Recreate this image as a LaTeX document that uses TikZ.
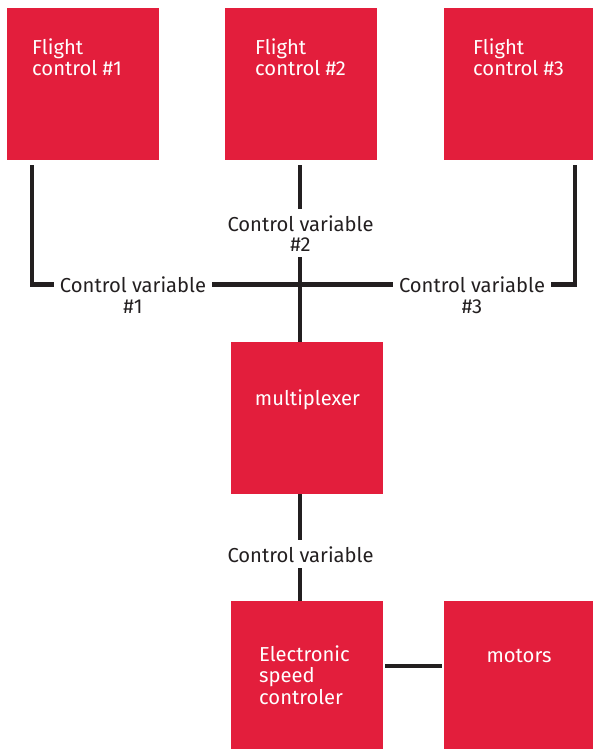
\documentclass[tikz,border=0pt]{standalone}
\usepackage{fontspec}
\setmainfont{Fira Sans}
\usetikzlibrary{calc}
\definecolor{boxred}{RGB}{227,30,60}
\definecolor{ink}{RGB}{35,31,32}
\begin{document}
\begin{tikzpicture}[x=1pt,y=-1pt,
  box/.style={fill=boxred, draw=none, minimum width=152pt, minimum height=152pt,
              inner sep=0pt, anchor=north west},
  boxtext/.style={text=white, font=\fontsize{20.2}{21.5}\selectfont, align=left, inner sep=0pt},
  lbl/.style={text=ink, font=\fontsize{20.2}{21.5}\selectfont, inner xsep=6pt, inner ysep=6pt},
  wire/.style={draw=ink, line width=4.8pt}]
\useasboundingbox (0,0) rectangle (593,749);

% blocks
\node[box] (fc1) at (7,8) {};
\node[box] (fc2) at (225,8) {};
\node[box] (fc3) at (444,8) {};
\node[box] (mux) at (231,342) {};
\node[box] (esc) at (231,601) {};
\node[box] (mot) at (444,601) {};

% block captions (base anchor sits on the last line)
\node[boxtext, anchor=base west] (fc1t) at (32,76) {Flight\\control \#1};
\node[boxtext, anchor=base west] (fc2t) at (255,76) {Flight\\control \#2};
\node[boxtext, anchor=base west] (fc3t) at (473,76) {Flight\\control \#3};
\node[boxtext, anchor=base] (muxt) at (307.5,405.7) {multiplexer};
\node[boxtext, anchor=base west] (esct) at (259,704) {Electronic\\speed\\controler};
\node[boxtext, anchor=base] (mott) at (519,662) {motors};

% signal labels
\node[lbl, anchor=base] (cv1) at (133,292) {Control variable};
\node[lbl, anchor=base] (cv1n) at (133,313) {\#1};
\node[lbl, anchor=base] (cv2) at (300.5,231) {Control variable};
\node[lbl, anchor=base] (cv2n) at (300.5,251) {\#2};
\node[lbl, anchor=base] (cv3) at (472,292) {Control variable};
\node[lbl, anchor=base] (cv3n) at (472,313) {\#3};
\node[lbl, anchor=base] (cv) at (300.5,562) {Control variable};

% wire start points below the flight controllers
\coordinate (c1) at (32,165);
\coordinate (c2) at (300,165);
\coordinate (c3) at (575,165);
\coordinate (m1) at (0,666);

% wiring
\draw[wire] (c1) |- (cv1.west);
\draw[wire] (cv1.east) -- (cv3.west);
\draw[wire] (cv3.east) -| (c3);
\draw[wire] (c2) -- (cv2.north -| c2);
\draw[wire] (cv2n.south -| c2) -- (mux.north -| c2);
\draw[wire] (mux.south -| c2) -- (cv.north -| c2);
\draw[wire] (cv.south -| c2) -- (esc.north -| c2);
\draw[wire] ($(esc.east |- m1)+(2,0)$) -- ($(mot.west |- m1)+(-2,0)$);
\end{tikzpicture}
\end{document}
